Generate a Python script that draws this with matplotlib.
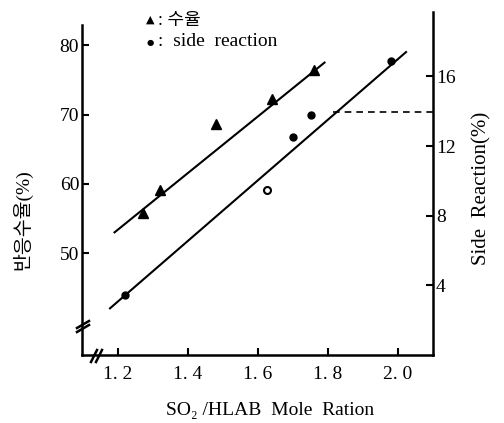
import matplotlib
matplotlib.use("Agg")
import matplotlib.pyplot as plt
from matplotlib.lines import Line2D

plt.rcParams['font.family'] = ['Liberation Serif', 'Noto Sans CJK KR', 'DejaVu Sans']

# data
yield_x = [1.27, 1.32, 1.48, 1.64, 1.76]
yield_y = [55.8, 59.1, 68.7, 72.2, 76.5]
yield_fit_x = [1.19, 1.79]
yield_fit_y = [53.0, 77.5]

side_x = [1.22, 1.70, 1.75, 1.98]
side_y = [3.45, 12.5, 13.8, 16.9]
side_open_x = [1.626]
side_open_y = [9.45]
side_fit_x = [1.177, 2.023]
side_fit_y = [2.68, 17.4]
dash_x = [1.814, 2.10]
dash_y = [13.95, 13.95]

x_ticks = [1.2, 1.4, 1.6, 1.8, 2.0]
x_labels = ['1. 2', '1. 4', '1. 6', '1. 8', '2. 0']
left_ticks = [50, 60, 70, 80]
right_ticks = [4, 8, 12, 16]

W, H = 504, 423
fig = plt.figure(figsize=(5.04, 4.23), dpi=100)
ax = fig.add_axes([82/W, 68/H, (433-82)/W, (355-12)/H])
ax.set_xlim(1.097, 2.10)
ax.set_ylim(35.3, 84.8)
ax.spines['top'].set_visible(False)
ax.spines['right'].set_visible(False)
ax.spines['left'].set_bounds(35.3, 82.9)
for s in ['left', 'bottom']:
    ax.spines[s].set_linewidth(1.8)
ax.set_xticks(x_ticks)
ax.set_xticklabels(x_labels)
ax.set_yticks(left_ticks)
ax.tick_params(axis='both', direction='in', length=5, width=1.5, labelsize=14)
ax.tick_params(axis='x', pad=8)
ax.tick_params(axis='y', pad=2)

ax2 = ax.twinx()
ax2.set_ylim(0, 19.7)
for s in ['top', 'left', 'bottom']:
    ax2.spines[s].set_visible(False)
ax2.spines['right'].set_linewidth(1.8)
ax2.set_yticks(right_ticks)
ax2.tick_params(axis='y', direction='in', length=5, width=1.5, labelsize=14, pad=2)

ax.plot(yield_fit_x, yield_fit_y, color='black', lw=1.5)
ax.plot(yield_x, yield_y, linestyle='none', marker='^', color='black', markersize=7)

ax2.plot(side_fit_x, side_fit_y, color='black', lw=1.5)
ax2.plot(side_x, side_y, linestyle='none', marker='o', color='black', markersize=5)
ax2.plot(side_open_x, side_open_y, linestyle='none', marker='o', markerfacecolor='white',
         markeredgecolor='black', markeredgewidth=1.5, markersize=5)
ax2.plot(dash_x, dash_y, color='black', lw=1.2, linestyle=(0, (4, 3)), clip_on=False)

# legend
fig.text(150/W, 1 - 20/H, '▲', fontsize=8, ha='center', va='center', family=['DejaVu Sans'])
fig.text(158/W, 1 - 20/H, ': 수율', fontsize=13, ha='left', va='center')
fig.text(150/W, 1 - 42/H, '●', fontsize=6, ha='center', va='center', family=['DejaVu Sans'])
fig.text(158/W, 1 - 42/H, ':  side  reaction', fontsize=14, ha='left', va='center')

# axis labels
fig.text(22/W, 1 - 220/H, '반응수율(%)', rotation=90, fontsize=14, ha='center', va='center')
fig.text(482/W, 1 - 188/H, 'Side  Reaction(%)', rotation=90, fontsize=15, ha='center', va='center')
fig.text(270/W, 1 - 410/H, 'SO₂ /HLAB  Mole  Ration', fontsize=14, ha='center', va='center')

# break marks (figure pixel coordinates)
def px(x, y):
    return x / W, 1 - y / H

for (x0, y0, x1, y1) in [(77, 332, 89, 325), (77, 328, 89, 321),
                         (91, 362, 97, 350), (96, 362, 102, 350)]:
    a, b = px(x0, y0)
    c, d = px(x1, y1)
    fig.add_artist(Line2D([a, c], [b, d], color='black', lw=1.8, transform=fig.transFigure))

fig.savefig('out.png', dpi=100)
